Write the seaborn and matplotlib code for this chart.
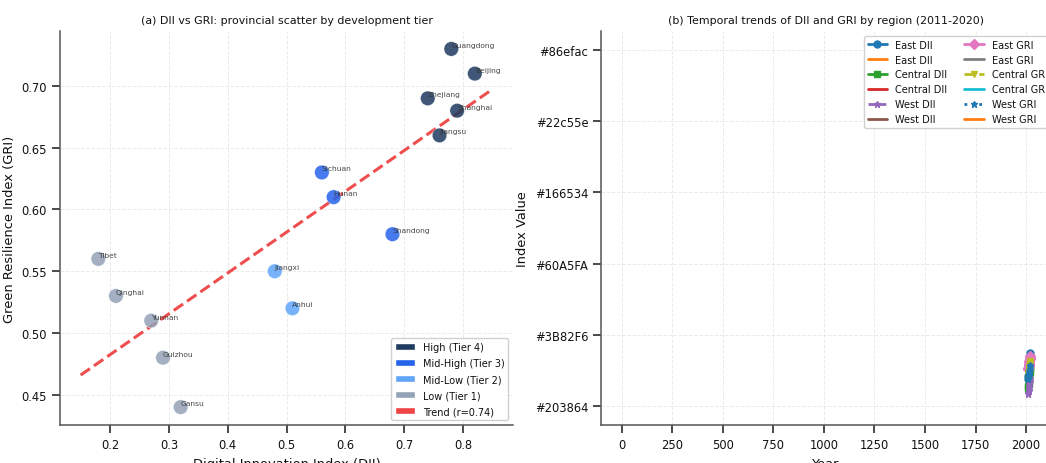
import numpy as np
import pandas as pd
import matplotlib
matplotlib.use("Agg")
import matplotlib.pyplot as plt
from matplotlib.patches import Patch
from matplotlib.lines import Line2D
import seaborn as sns

# ---------------- data ----------------
provinces = ["Guangdong", "Beijing", "Zhejiang", "Shanghai", "Jiangsu",
             "Sichuan", "Hunan", "Shandong", "Jiangxi", "Anhui",
             "Tibet", "Qinghai", "Yunnan", "Guizhou", "Gansu"]
dii = [0.78, 0.82, 0.74, 0.79, 0.76, 0.56, 0.58, 0.68, 0.48, 0.51,
       0.18, 0.21, 0.27, 0.29, 0.32]
gri = [0.73, 0.71, 0.69, 0.68, 0.66, 0.63, 0.61, 0.58, 0.55, 0.52,
       0.56, 0.53, 0.51, 0.48, 0.44]
tiers = ["High (Tier 4)"] * 5 + ["Mid-High (Tier 3)"] * 3 + ["Mid-Low (Tier 2)"] * 2 + ["Low (Tier 1)"] * 5
tier_order = ["High (Tier 4)", "Mid-High (Tier 3)", "Mid-Low (Tier 2)", "Low (Tier 1)"]
tier_colors = ["#1E3A5F", "#2563EB", "#60A5FA", "#94A3B8"]
trend_color = "#EF4444"
trend_label = "Trend (r=0.74)"

years = list(range(2011, 2021))
east_dii = [0.38, 0.42, 0.46, 0.50, 0.54, 0.58, 0.62, 0.66, 0.70, 0.75]
central_dii = [0.26, 0.29, 0.32, 0.35, 0.38, 0.42, 0.45, 0.48, 0.52, 0.55]
west_dii = [0.17, 0.19, 0.21, 0.23, 0.26, 0.28, 0.31, 0.34, 0.37, 0.40]
east_gri = [0.52, 0.54, 0.56, 0.58, 0.60, 0.62, 0.64, 0.66, 0.68, 0.70]
central_gri = [0.45, 0.47, 0.49, 0.51, 0.53, 0.55, 0.57, 0.59, 0.61, 0.64]
west_gri = [0.38, 0.40, 0.42, 0.44, 0.46, 0.48, 0.50, 0.52, 0.55, 0.58]
color_tick_labels = ["#203864", "#3B82F6", "#60A5FA", "#166534", "#22c55e", "#86efac"]

tab10 = ['#1f77b4', '#ff7f0e', '#2ca02c', '#d62728', '#9467bd',
         '#8c564b', '#e377c2', '#7f7f7f', '#bcbd22', '#17becf']

# ---------------- style ----------------
sns.set_theme(style="ticks")
plt.rcParams["font.family"] = ["DejaVu Sans"]
plt.rcParams["text.color"] = "#111111"
plt.rcParams["axes.labelcolor"] = "#111111"
plt.rcParams["xtick.color"] = "#333333"
plt.rcParams["ytick.color"] = "#333333"
plt.rcParams["xtick.labelcolor"] = "#111111"
plt.rcParams["ytick.labelcolor"] = "#111111"

fig = plt.figure(figsize=(10.46, 4.64), dpi=100)
ax1 = fig.add_axes([0.0574, 0.0819, 0.4331, 0.8491])
ax2 = fig.add_axes([0.5750, 0.0819, 0.4293, 0.8491])

# ---------------- panel (a) ----------------
df = pd.DataFrame({"Province": provinces, "DII": dii, "GRI": gri, "Tier": tiers})
sns.scatterplot(data=df, x="DII", y="GRI", hue="Tier", hue_order=tier_order,
                palette=tier_colors, s=110, alpha=0.85, edgecolor="white",
                linewidth=0.3, legend=False, ax=ax1, zorder=3)
for name, xv, yv in zip(provinces, dii, gri):
    ax1.annotate(name, (xv, yv), xytext=(0, 1.5), textcoords="offset points",
                 fontsize=5.4, color="#333333", alpha=0.9, zorder=4)

coef = np.polyfit(dii, gri, 1)
xs = np.linspace(0.15, 0.85, 50)
ax1.plot(xs, np.polyval(coef, xs), "--", color=trend_color, lw=2.2, alpha=0.95, zorder=2)

handles = [Patch(facecolor=c, label=l) for c, l in zip(tier_colors, tier_order)]
handles.append(Patch(facecolor=trend_color, label=trend_label))
ax1.legend(handles=handles, loc="lower right", fontsize=7, frameon=True,
           framealpha=0.9, handlelength=2.0, labelspacing=0.62)
ax1.set_title("(a) DII vs GRI: provincial scatter by development tier", fontsize=7.9)
ax1.set_xlabel("Digital Innovation Index (DII)", fontsize=9.4)
ax1.set_ylabel("Green Resilience Index (GRI)", fontsize=9.4)
ax1.tick_params(labelsize=8.3)
ax1.set_xticks([0.2, 0.3, 0.4, 0.5, 0.6, 0.7, 0.8])
ax1.set_yticks([0.45, 0.50, 0.55, 0.60, 0.65, 0.70])
ax1.grid(True, linestyle="--", alpha=0.4, linewidth=0.7)

# ---------------- panel (b) ----------------
series = [
    ("East DII", east_dii, "o-", tab10[0], tab10[1]),
    ("Central DII", central_dii, "s-", tab10[2], tab10[3]),
    ("West DII", west_dii, "*-.", tab10[4], tab10[5]),
    ("East GRI", east_gri, "D-", tab10[6], tab10[7]),
    ("Central GRI", central_gri, "v--", tab10[8], tab10[9]),
    ("West GRI", west_gri, "*:", tab10[0], tab10[1]),
]
leg_handles = []
for label, vals, fmt, c1, c2 in series:
    ln, = ax2.plot(years, vals, fmt, color=c1, lw=2, ms=5, label=label)
    leg_handles.append(ln)
    leg_handles.append(Line2D([], [], color=c2, lw=2, label=label))

ax2.set_xlim(-101, 2121)
ax2.set_ylim(-0.26, 5.26)
ax2.set_yticks(range(len(color_tick_labels)))
ax2.set_yticklabels(color_tick_labels)
ax2.set_xticks(range(0, 2001, 250))
ax2.legend(handles=leg_handles, ncol=2, loc="upper right", fontsize=7,
           framealpha=0.9, columnspacing=1.8, bbox_to_anchor=(1.013, 1.0))
ax2.set_title("(b) Temporal trends of DII and GRI by region (2011-2020)", fontsize=7.9)
ax2.set_xlabel("Year", fontsize=9.4)
ax2.set_ylabel("Index Value", fontsize=9.4)
ax2.tick_params(labelsize=8.3)
ax2.grid(True, linestyle="--", alpha=0.4, linewidth=0.7)

for ax in (ax1, ax2):
    sns.despine(ax=ax)
    for sp in ("left", "bottom"):
        ax.spines[sp].set_color("#555555")
        ax.spines[sp].set_linewidth(1.1)

fig.savefig("out.png", dpi=100)
